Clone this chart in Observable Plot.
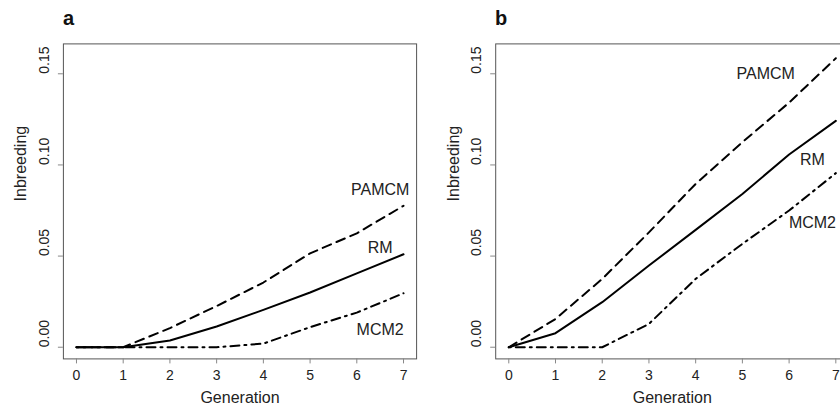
<!DOCTYPE html>
<html>
<head>
<meta charset="utf-8">
<script src="https://cdn.jsdelivr.net/npm/d3@7"></script>
<script src="https://cdn.jsdelivr.net/npm/@observablehq/plot@0.6"></script>
<style>
  html, body { margin: 0; padding: 0; background: #fff; }
  #wrap { position: relative; width: 840px; height: 410px; overflow: hidden; font-family: "Liberation Sans", Arial, sans-serif; }
  .panel { position: absolute; top: 0; }
  .panel svg { max-width: none !important; }
  .letter { position: absolute; font-weight: bold; font-size: 20px; color: #111; line-height: 1; }
</style>
</head>
<body>
<div id="wrap">
  <div class="panel" id="pa" style="left:0px; width:420px"></div>
  <div class="panel" id="pb" style="left:420px; width:430px"></div>
  <div class="letter" style="left:63px; top:8px">a</div>
  <div class="letter" style="left:495px; top:8px">b</div>
</div>
<script>
// ---- data ----
const generations = [0, 1, 2, 3, 4, 5, 6, 7];
const seriesNames = ["PAMCM", "RM", "MCM2"];

// Panel a
const aPAMCM = [0, 0, 0.0105, 0.0226, 0.0355, 0.0515, 0.0625, 0.0776];
const aRM    = [0, 0, 0.0037, 0.0114, 0.0205, 0.0300, 0.0405, 0.0510];
const aMCM2  = [0, 0, 0, 0, 0.0020, 0.0110, 0.0190, 0.0296];

// Panel b
const bPAMCM = [0, 0.0155, 0.0375, 0.0630, 0.0896, 0.1125, 0.1342, 0.1585];
const bRM    = [0, 0.0077, 0.0247, 0.0448, 0.0644, 0.0841, 0.1057, 0.1242];
const bMCM2  = [0, 0, 0, 0.0128, 0.0375, 0.0567, 0.0750, 0.0955];

// series label anchors (data units)
const aLabelX = [6.5, 6.5, 6.5];
const aLabelY = [0.0865, 0.0547, 0.0097];
const bLabelX = [5.5, 6.5, 6.5];
const bLabelY = [0.150, 0.1028, 0.0682];

const yTicks = [0, 0.05, 0.10, 0.15];
const xTicks = generations;
const fmtY = d3.format(".2f");

const dashes = { PAMCM: "9,6", RM: null, MCM2: "2,5,9,5" };
const FONT = "Liberation Sans, Arial, sans-serif";

function makePanel(series, labelX, labelY, width, mLeft, mRight, yTitleX) {
  const rows = series.map(vals => generations.map((g, i) => ({gen: g, value: vals[i]})));
  const labels = seriesNames.map((n, i) => ({name: n, x: labelX[i], y: labelY[i]}));
  const lineMarks = seriesNames.map((n, i) =>
    Plot.line(rows[i], {x: "gen", y: "value", stroke: "#000", strokeWidth: 2,
      strokeDasharray: dashes[n] || undefined}));
  return Plot.plot({
    width, height: 410,
    marginLeft: mLeft, marginRight: mRight, marginTop: 43.4, marginBottom: 51.6,
    style: {fontFamily: FONT, fontSize: "14px", color: "#222", background: "#fff", maxWidth: "none"},
    x: {domain: [-0.28, 7.28]},
    y: {domain: [-0.0064, 0.1664]},
    marks: [
      Plot.frame({stroke: "#555", strokeWidth: 1}),
      Plot.axisX({ticks: xTicks, tickSize: 5, stroke: "#888", text: null, label: null}),
      Plot.axisY({ticks: yTicks, tickSize: 5, stroke: "#888", text: null, label: null}),
      Plot.text(xTicks, {x: d => d, text: d => String(d), frameAnchor: "bottom", dy: 21, fontSize: 14, fill: "#222"}),
      Plot.text(yTicks, {y: d => d, text: d => fmtY(d), frameAnchor: "left", dx: -19, rotate: -90, fontSize: 14, fill: "#222"}),
      Plot.text(["Generation"], {frameAnchor: "bottom", dy: 44, fontSize: 16, fill: "#222"}),
      Plot.text(["Inbreeding"], {frameAnchor: "left", dx: yTitleX - mLeft, rotate: -90, fontSize: 16, fill: "#222"}),
      ...lineMarks,
      Plot.text(labels, {x: "x", y: "y", text: "name", fontSize: 16, fill: "#222"})
    ]
  });
}

document.getElementById("pa").append(
  makePanel([aPAMCM, aRM, aMCM2], aLabelX, aLabelY, 420, 62.9, 3.9, 20));
document.getElementById("pb").append(
  makePanel([bPAMCM, bRM, bMCM2], bLabelX, bLabelY, 430, 75.2, 1.6, 33));
</script>
</body>
</html>
